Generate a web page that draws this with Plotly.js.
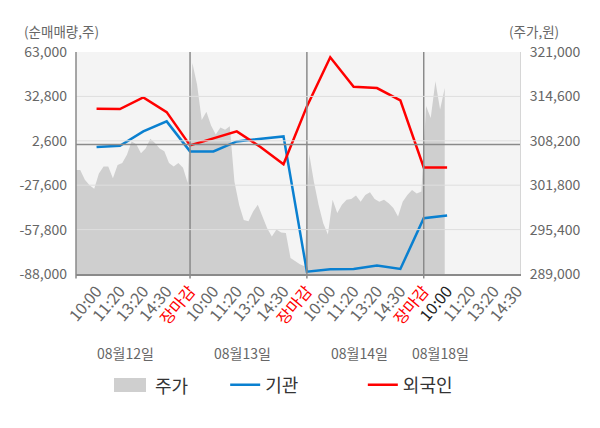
<!DOCTYPE html>
<html>
<head>
<meta charset="utf-8">
<script src="https://cdn.plot.ly/plotly-3.0.1.min.js"></script>
<style>
  html, body { margin: 0; padding: 0; background: #fff; }
  #chart { width: 600px; height: 428px; }
</style>
</head>
<body>
<div id="chart"></div>
<script>
// time labels for one trading day, and the days shown
const timeLabels = ['10:00', '11:20', '13:20', '14:30', '장마감'];
const dayLabels = ['08월12일', '08월13일', '08월14일', '08월18일'];

// net buying (shares), one value per time label starting at the first 10:00
const instVals = [-1700, -800, 9000, 15800, -4600,
                  -4600, 2200, 4000, 5600, -86400,
                  -84800, -84600, -82300, -84600, -50100,
                  -48200];
const foreignVals = [24400, 24200, 32100, 22100, -500,
                     4400, 9000, -1500, -13300, 26000,
                     59400, 39400, 38500, 30100, -15500,
                     -15500];

// share price (won), evenly spaced through each day
const priceDay1 = [304000, 304000, 302600, 301800, 301300, 303500, 304500, 304500, 302800, 304700,
                   305000, 306200, 308100, 307700, 306400, 307100, 308500, 307900, 307100, 306700,
                   305000, 304500, 305000, 304300, 302100];
const priceDay2 = [319400, 316300, 311200, 312400, 310400, 309100, 310100, 309800, 310300, 302300,
                   299000, 296800, 296600, 298000, 299000, 297300, 295600, 294400, 295400, 295000,
                   294900, 291300, 290800, 290400, 290100];
const priceDay3 = [306300, 302300, 299000, 296300, 294700, 299700, 297800, 299000, 299700, 299800,
                   300300, 299400, 300400, 300800, 299800, 299400, 299700, 299200, 298500, 297300,
                   299400, 300400, 301100, 300600, 300900];
const priceDay4 = [313200, 311500, 316800, 312700, 315800];

// axis ticks
const leftTicks = [-88000, -57800, -27600, 2600, 32800, 63000];
const rightTicks = [289000, 295400, 301800, 308200, 314600, 321000];

const slotsPerDay = timeLabels.length;
const priceStep = 0.2;
const priceColor = '#cfcfcf';

// x tick labels: every day's times, the last day still open
const xLabels = [];
dayLabels.forEach((d, di) => {
    timeLabels.forEach((t, ti) => {
        if (di === dayLabels.length - 1 && ti === slotsPerDay - 1) return;
        xLabels.push({ day: di, time: t });
    });
});
const xTickVals = xLabels.map((_, i) => i + 1);
const xTickText = xLabels.map(l => {
    if (l.time === '장마감') return '<span style="color:#ff0000">' + l.time + '</span>';
    if (l.day === dayLabels.length - 1 && l.time === timeLabels[0]) return '<span style="color:#222">' + l.time + '</span>';
    return l.time;
});

const lineX = instVals.map((_, i) => i + 1);

const priceX = [];
const priceY = [];
[priceDay1, priceDay2, priceDay3, priceDay4].forEach((arr, d) => {
    arr.forEach((v, i) => {
        priceX.push(d * slotsPerDay + priceStep / 2 + i * priceStep);
        priceY.push(v);
    });
});

const fmt = v => v.toLocaleString('en-US');

// price on the base axis so the net-buying lines (overlay) sit on top of it
const traces = [
    {
        x: priceX, y: priceY, yaxis: 'y',
        type: 'scatter', mode: 'lines', fill: 'tozeroy',
        fillcolor: priceColor, line: { color: priceColor, width: 0 },
        name: '주가', showlegend: false, hoverinfo: 'skip'
    },
    {
        x: lineX, y: instVals, yaxis: 'y2',
        type: 'scatter', mode: 'lines',
        line: { color: '#0a80d0', width: 2.5 },
        name: '기관', legend: 'legend2', hoverinfo: 'skip'
    },
    {
        x: lineX, y: foreignVals, yaxis: 'y2',
        type: 'scatter', mode: 'lines',
        line: { color: '#ff0000', width: 2.5 },
        name: '외국인', legend: 'legend3', hoverinfo: 'skip'
    }
];

// day separators at each 장마감 tick, gridlines, zero line
const shapes = [];
xLabels.forEach((l, i) => {
    if (l.time !== '장마감') return;
    shapes.push({
        type: 'line', xref: 'x', yref: 'paper', x0: i + 1, x1: i + 1, y0: -0.02, y1: 1,
        line: { color: '#8a8a8a', width: 1.5 }, layer: 'above'
    });
});
leftTicks.slice(1, -1).forEach(v => {
    shapes.push({
        type: 'line', xref: 'paper', yref: 'y2', x0: 0, x1: 1, y0: v, y1: v,
        line: { color: '#dedede', width: 1 }, layer: 'above'
    });
});
shapes.push({
    type: 'line', xref: 'paper', yref: 'y2', x0: 0, x1: 1, y0: 0, y1: 0,
    line: { color: '#8a8a8a', width: 1.5 }, layer: 'above'
});
shapes.push({
    type: 'line', xref: 'paper', yref: 'paper', x0: 0, x1: 0, y0: -0.02, y1: 1,
    line: { color: '#8a8a8a', width: 1.5 }, layer: 'above'
});
// swatch for the price area in the legend row
shapes.push({
    type: 'rect', xref: 'paper', yref: 'paper', x0: 0.0856, x1: 0.1577, y0: -0.532, y1: -0.468,
    fillcolor: priceColor, line: { width: 0 }
});

const annotations = [
    { text: '(순매매량,주)', xref: 'paper', yref: 'paper', x: -0.122, y: 1.095,
      xanchor: 'left', yanchor: 'middle', showarrow: false, font: { size: 13.5, color: '#666' } },
    { text: '(주가,원)', xref: 'paper', yref: 'paper', x: 1.092, y: 1.095,
      xanchor: 'right', yanchor: 'middle', showarrow: false, font: { size: 13.5, color: '#666' } },
    { text: '주가', xref: 'paper', yref: 'paper', x: 0.1734, y: -0.5,
      xanchor: 'left', yanchor: 'middle', showarrow: false, font: { size: 18, color: '#333' } }
];
dayLabels.forEach((d, i) => {
    const last = i === dayLabels.length - 1;
    annotations.push({
        text: d, xref: 'x', yref: 'paper',
        x: last ? i * slotsPerDay + 0.7 : i * slotsPerDay + 2.25,
        y: -0.356, xanchor: 'center', yanchor: 'middle', showarrow: false,
        font: { size: 14, color: '#666' }
    });
});

const legendBase = {
    orientation: 'h', yref: 'paper', y: -0.5, xanchor: 'left', yanchor: 'middle',
    font: { size: 18, color: '#333' }, bgcolor: 'rgba(0,0,0,0)', borderwidth: 0
};

const layout = {
    width: 600, height: 428,
    margin: { l: 76, r: 80, t: 52, b: 154 },
    paper_bgcolor: '#ffffff', plot_bgcolor: '#f4f4f4',
    font: { family: '"Noto Sans CJK KR", "Noto Sans", sans-serif', color: '#666', size: 14 },
    showlegend: true,
    hovermode: false,
    xaxis: {
        range: [0.12, 19.12], tickmode: 'array', tickvals: xTickVals, ticktext: xTickText,
        tickangle: -50, tickfont: { size: 16, color: '#666' },
        showgrid: false, zeroline: false, showline: true, linecolor: '#8a8a8a', linewidth: 1.5,
        ticks: '', fixedrange: true
    },
    yaxis: {
        side: 'right',
        range: [289000, 321000], tickmode: 'array', tickvals: rightTicks, ticktext: rightTicks.map(fmt),
        tickfont: { size: 14, color: '#666' }, ticklabelstandoff: 6,
        showgrid: false, zeroline: false, showline: true, linecolor: '#d6d6d6', ticks: ''
    },
    yaxis2: {
        overlaying: 'y', side: 'left',
        range: [-88000, 63000], tickmode: 'array', tickvals: leftTicks, ticktext: leftTicks.map(fmt),
        tickfont: { size: 14, color: '#666' }, ticklabelstandoff: 8,
        showgrid: false, zeroline: false, showline: false, ticks: ''
    },
    shapes: shapes,
    annotations: annotations,
    legend2: Object.assign({}, legendBase, { x: 0.336 }),
    legend3: Object.assign({}, legendBase, { x: 0.646 })
};

Plotly.newPlot('chart', traces, layout, { displayModeBar: false, staticPlot: true });
</script>
</body>
</html>
